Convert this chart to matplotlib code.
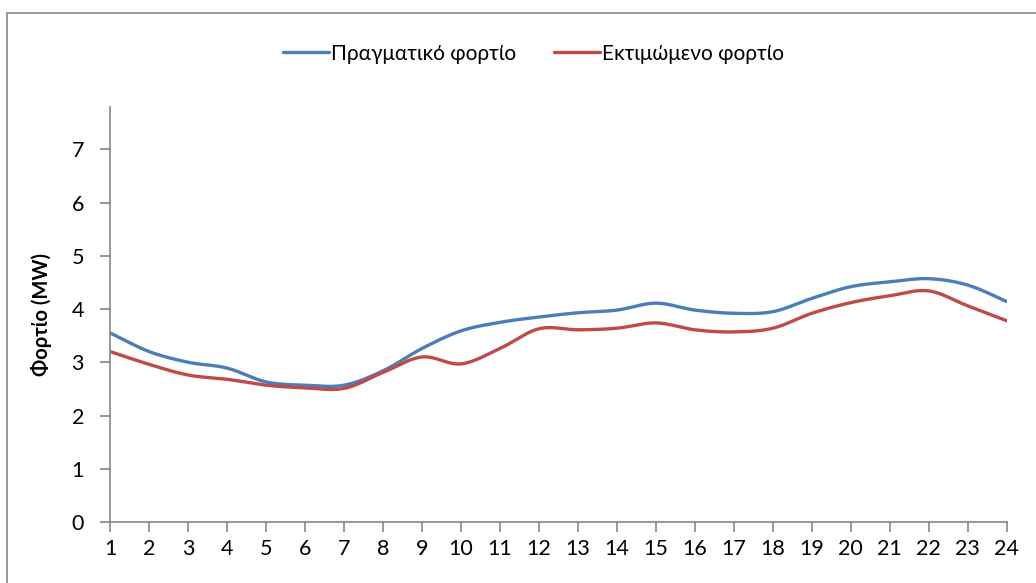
import numpy as np
import matplotlib
matplotlib.use("Agg")
import matplotlib.pyplot as plt
from matplotlib.patches import Rectangle

hours = list(range(1, 25))
actual = [3.55, 3.20, 3.00, 2.89, 2.63, 2.57, 2.57, 2.84, 3.26, 3.59, 3.75, 3.85,
          3.93, 3.98, 4.11, 3.98, 3.92, 3.95, 4.20, 4.42, 4.51, 4.57, 4.45, 4.14]
estimated = [3.20, 2.96, 2.76, 2.68, 2.57, 2.52, 2.51, 2.81, 3.10, 2.97, 3.26, 3.63,
             3.61, 3.64, 3.74, 3.61, 3.57, 3.64, 3.92, 4.12, 4.25, 4.34, 4.06, 3.78]
yticks = [0, 1, 2, 3, 4, 5, 6, 7]

blue = '#4A7EBB'
red = '#BE4B48'
grey = '#868686'

plt.rcParams['font.family'] = ['Lato', 'DejaVu Sans']


def smooth(xs, ys, n=30):
    # excel style smoothed line: bezier with catmull-rom control points
    xs = np.asarray(xs, float)
    ys = np.asarray(ys, float)
    px = np.concatenate([[xs[0]], xs, [xs[-1]]])
    py = np.concatenate([[ys[0]], ys, [ys[-1]]])
    t = np.linspace(0, 1, n)[:, None]
    outx, outy = [], []
    for i in range(1, len(px) - 2):
        p0 = np.array([px[i], py[i]])
        p3 = np.array([px[i + 1], py[i + 1]])
        c1 = p0 + (np.array([px[i + 1], py[i + 1]]) - np.array([px[i - 1], py[i - 1]])) / 6
        c2 = p3 - (np.array([px[i + 2], py[i + 2]]) - np.array([px[i], py[i]])) / 6
        b = ((1 - t) ** 3) * p0 + 3 * ((1 - t) ** 2) * t * c1 + 3 * (1 - t) * t ** 2 * c2 + t ** 3 * p3
        outx.extend(b[:, 0])
        outy.extend(b[:, 1])
    return outx, outy


fig = plt.figure(figsize=(10.36, 5.83), dpi=100)
fig.patches.append(Rectangle((7 / 1036, -0.1), 1.2, 1 - 13 / 583 + 0.1, transform=fig.transFigure,
                             fill=False, edgecolor=grey, linewidth=1.2))

ax = fig.add_axes([0.1065, 0.1046, 0.8652, 0.7124])

sx, sy = smooth(hours, actual)
ax.plot(sx, sy, color=blue, lw=2.4, label='Πραγματικό φορτίο', solid_capstyle='round')
sx, sy = smooth(hours, estimated)
ax.plot(sx, sy, color=red, lw=2.4, label='Εκτιμώμενο φορτίο', solid_capstyle='round')

ax.set_xlim(1, 24)
ax.set_ylim(0, 7.8)
ax.set_xticks(hours)
ax.set_yticks(yticks)
for s in ['top', 'right']:
    ax.spines[s].set_visible(False)
for s in ['left', 'bottom']:
    ax.spines[s].set_color(grey)
    ax.spines[s].set_linewidth(1.2)
ax.tick_params(colors=grey, width=1.2, length=7, labelcolor='black', labelsize=15.5)
ax.tick_params(axis='x', pad=5)
ax.tick_params(axis='y', pad=12)
ax.set_ylabel('Φορτίο (MW)', fontsize=14.5, fontweight='bold', labelpad=14)

fig.legend(loc='center', bbox_to_anchor=(0.515, 0.908), ncol=2, frameon=False, fontsize=15,
           handlelength=2.2, handletextpad=0.1, columnspacing=1.8)

fig.savefig('out.png', dpi=100)
